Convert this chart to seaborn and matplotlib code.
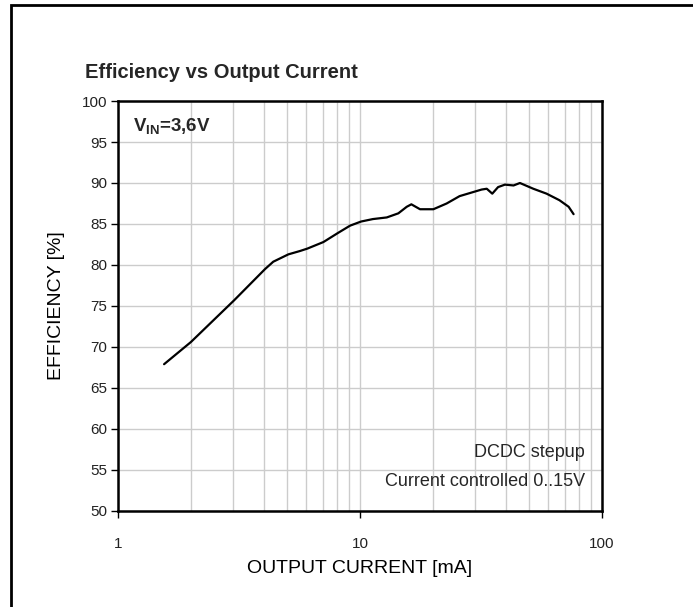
import matplotlib
matplotlib.use("Agg")
import matplotlib.pyplot as plt
import seaborn as sns
import pandas as pd
from matplotlib.patches import Rectangle
from matplotlib.ticker import FixedLocator, LogLocator

# Efficiency curve
current_ma = [1.55, 2.0, 3.02, 4.05, 4.38, 5.06, 5.64, 6.06, 7.06, 8.1, 9.1,
              10.1, 11.3, 12.9, 14.4, 15.6, 16.3, 17.7, 19.4, 20.1, 22.8,
              25.8, 29.4, 31.8, 33.4, 35.2, 37.2, 39.7, 43.1, 45.8, 52.0,
              59.0, 66.7, 72.8, 76.3]
efficiency = [67.9, 70.6, 75.7, 79.5, 80.4, 81.3, 81.7, 82.0, 82.8, 83.9, 84.8,
              85.3, 85.6, 85.8, 86.3, 87.1, 87.4, 86.8, 86.8, 86.8, 87.5,
              88.4, 88.9, 89.2, 89.3, 88.7, 89.5, 89.8, 89.7, 90.0, 89.3,
              88.7, 87.9, 87.1, 86.2]
y_ticks = [50, 55, 60, 65, 70, 75, 80, 85, 90, 95, 100]
x_ticks = [1, 10, 100]

sns.set_theme(style="white")
FONT = ["Liberation Sans", "DejaVu Sans"]
plt.rcParams["font.family"] = FONT
plt.rcParams["mathtext.fontset"] = "custom"
plt.rcParams["mathtext.bf"] = "Liberation Sans:bold"
plt.rcParams["mathtext.rm"] = "Liberation Sans"

df = pd.DataFrame({"current": current_ma, "eff": efficiency})

fig = plt.figure(figsize=(6.93, 6.07), dpi=100)
ax = fig.add_axes([0.1703, 0.1582, 0.6984, 0.6754])

# outer frame (runs off the right and bottom of the image)
fig.patches.append(Rectangle((11 / 693, -0.2), 1.2, 1.2 - 5 / 607,
                             transform=fig.transFigure, fill=False,
                             edgecolor="black", linewidth=2.0, zorder=-1))

sns.lineplot(data=df, x="current", y="eff", ax=ax, color="black",
             linewidth=1.6, zorder=5)

ax.set_xscale("log")
ax.set_xlim(1, 100)
ax.set_ylim(50, 100)
ax.xaxis.set_major_locator(FixedLocator(x_ticks))
ax.xaxis.set_minor_locator(LogLocator(base=10, subs=range(2, 10)))
ax.set_xticklabels([str(v) for v in x_ticks])
ax.set_yticks(y_ticks)
ax.grid(True, which="both", axis="x", color="#cccccc", linewidth=1.0)
ax.grid(True, which="major", axis="y", color="#cccccc", linewidth=1.0)
ax.tick_params(axis="x", which="minor", length=0)
ax.tick_params(axis="both", which="major", direction="out", length=5,
               width=1.0, color="black", labelsize=11, labelcolor="#222222",
               left=True, bottom=True)
ax.tick_params(axis="x", which="major", pad=14)
ax.tick_params(axis="y", which="major", pad=3)
for s in ax.spines.values():
    s.set_color("black")
    s.set_linewidth(1.8)

ax.set_xlabel("OUTPUT CURRENT [mA]", fontsize=14, color="black", labelpad=6)
ax.set_ylabel("EFFICIENCY [%]", fontsize=14, color="black", labelpad=12)

fig.text(85 / 693, 1 - 72 / 607, "Efficiency vs Output Current", fontsize=14.5,
         fontweight="bold", ha="left", va="center")
ax.text(0.03, 0.94, r"$\mathbf{V_{IN}}$=3,6V", transform=ax.transAxes,
        fontsize=13.5, fontweight="bold", ha="left", va="center")
ax.text(0.965, 0.143, "DCDC stepup", transform=ax.transAxes, fontsize=13,
        ha="right", va="center")
ax.text(0.965, 0.072, "Current controlled 0..15V", transform=ax.transAxes,
        fontsize=13, ha="right", va="center")

fig.savefig("out.png", dpi=100)
